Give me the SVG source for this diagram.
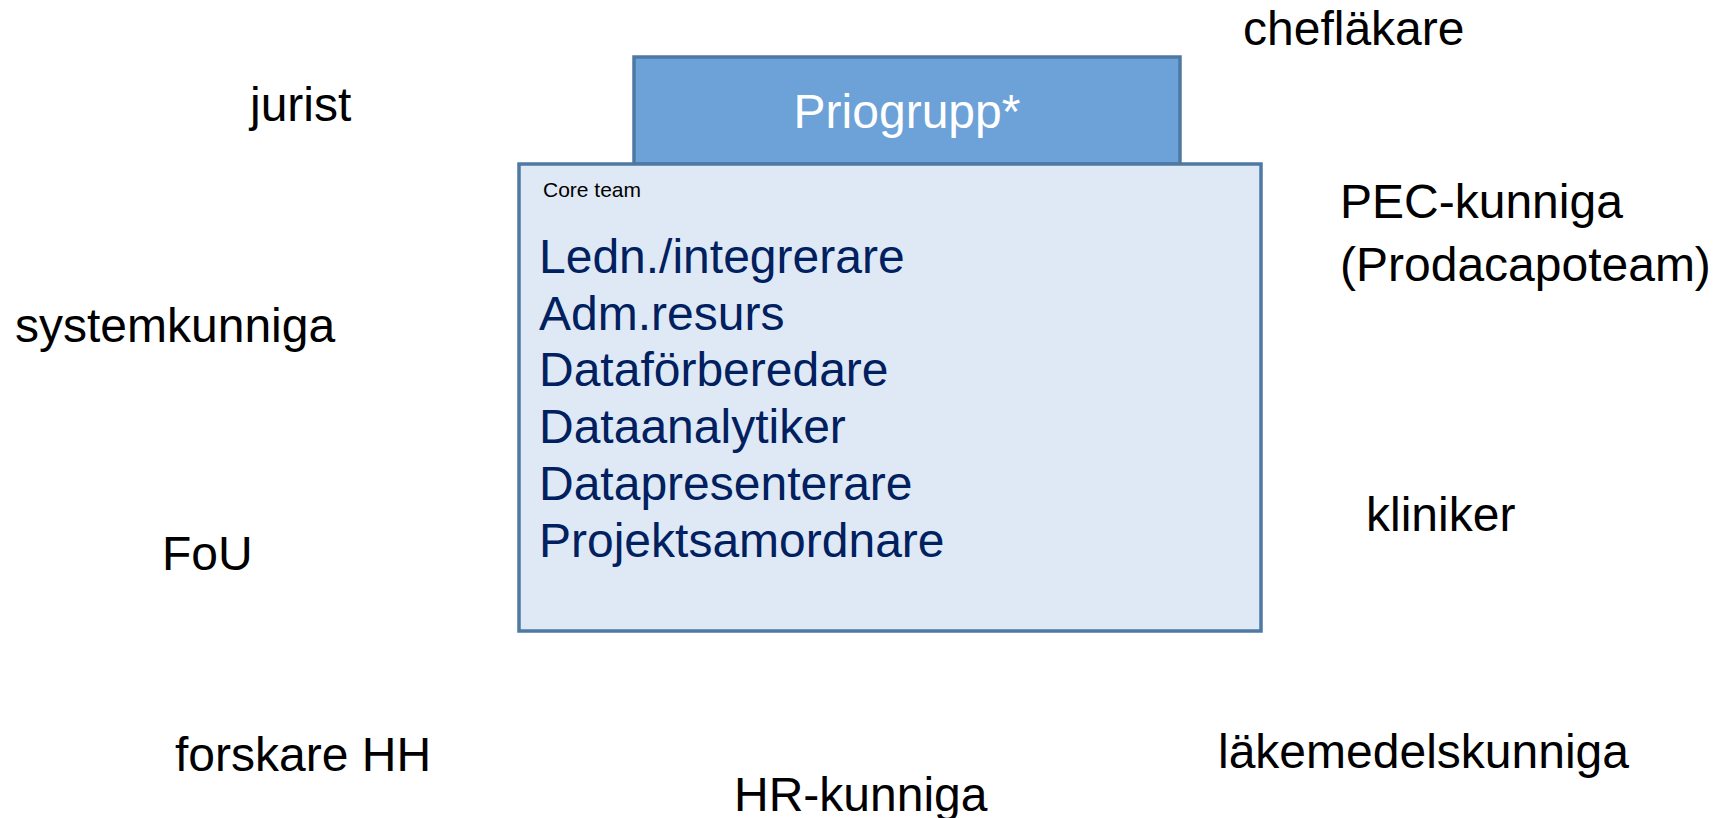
<svg xmlns="http://www.w3.org/2000/svg" width="1713" height="818" viewBox="0 0 1713 818">
<style>
.lbl{font-family:"Liberation Sans",Arial,sans-serif;font-size:48px;fill:#000}
.item{font-family:"Liberation Sans",Arial,sans-serif;font-size:48px;fill:#002060}
.box{stroke:#4d79a3;stroke-width:3.5}
</style>
<rect width="1713" height="818" fill="#fff"/>
<g id="priogrupp">
<rect class="box" x="634" y="57" width="546" height="107" fill="#6ca2d7"/>
<text x="907" y="128" text-anchor="middle" style="font-family:'Liberation Sans',Arial,sans-serif;font-size:48px;fill:#fff">Priogrupp*</text>
</g>
<g id="core-team">
<rect class="box" x="519" y="164" width="742" height="467" fill="#dfe9f5"/>
<text x="543" y="197" style="font-family:'Liberation Sans',Arial,sans-serif;font-size:21px;fill:#000">Core team</text>
<text class="item" x="539" y="273">Ledn./integrerare</text>
<text class="item" x="539" y="330">Adm.resurs</text>
<text class="item" x="539" y="386">Dataförberedare</text>
<text class="item" x="539" y="443">Dataanalytiker</text>
<text class="item" x="539" y="500">Datapresenterare</text>
<text class="item" x="539" y="557">Projektsamordnare</text>
</g>
<g id="connectors"></g>
<g id="jurist"><text class="lbl" x="250" y="121">jurist</text></g>
<g id="systemkunniga"><text class="lbl" x="15" y="342">systemkunniga</text></g>
<g id="fou"><text class="lbl" x="162" y="570">FoU</text></g>
<g id="forskare-hh"><text class="lbl" x="175" y="771">forskare HH</text></g>
<g id="hr-kunniga"><text class="lbl" x="734" y="811">HR-kunniga</text></g>
<g id="lakemedelskunniga"><text class="lbl" x="1218" y="768">läkemedelskunniga</text></g>
<g id="kliniker"><text class="lbl" x="1366" y="531">kliniker</text></g>
<g id="pec-kunniga"><text class="lbl" x="1340" y="218">PEC-kunniga</text><text class="lbl" x="1340" y="281">(Prodacapoteam)</text></g>
<g id="cheflakare"><text class="lbl" x="1243" y="45">chefläkare</text></g>
</svg>
